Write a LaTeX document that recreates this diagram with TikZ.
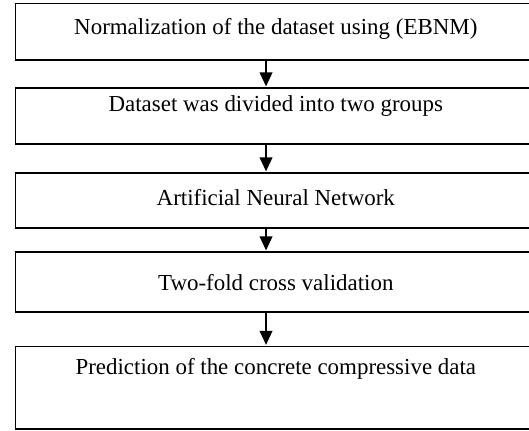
\documentclass[tikz,border=0pt]{standalone}
\usepackage{fontspec}
\setmainfont{Liberation Serif}
\usetikzlibrary{arrows.meta,calc}
\tikzset{
  box/.style={draw=black, line width=1.2pt, minimum width=389.6pt, inner sep=0pt, rectangle},
  txt/.style={anchor=base, inner sep=0pt, font=\fontsize{17.2pt}{20pt}\selectfont},
  arr/.style={draw=black, line width=1.2pt, -{Triangle[length=10.5pt,width=9.5pt]}, shorten >=0.6pt}
}
\begin{document}
\begin{tikzpicture}[x=0.75pt,y=-0.75pt]
\path[use as bounding box] (0,0) rectangle (529,430);
\clip (0,0) rectangle (529,430);
\node[box, minimum height=42.4pt] (b1) at (275.3,31.75) {};
\node[box, minimum height=42pt] (b2) at (275.3,116) {};
\node[box, minimum height=41.25pt] (b3) at (275.3,200.5) {};
\node[box, minimum height=45pt] (b4) at (275.3,282) {};
\node[box, minimum height=61.9pt] (b5) at (275.3,387.75) {};
\node[txt] (t1) at (275.8,34) {Normalization of the dataset using (EBNM)};
\node[txt] (t2) at (275.8,111) {Dataset was divided into two groups};
\node[txt] (t3) at (275.8,205.5) {Artificial Neural Network};
\node[txt] (t4) at (275.8,290.5) {Two-fold cross validation};
\node[txt] (t5) at (275.8,374) {Prediction of the concrete compressive data};
\draw[arr] ([xshift=-6.95pt]b1.south) -- ([xshift=-6.95pt]b2.north);
\draw[arr] ([xshift=-6.95pt]b2.south) -- ([xshift=-6.95pt]b3.north);
\draw[arr] ([xshift=-6.95pt]b3.south) -- ([xshift=-6.95pt]b4.north);
\draw[arr] ([xshift=-6.95pt]b4.south) -- ([xshift=-6.95pt]b5.north);
\end{tikzpicture}
\end{document}
